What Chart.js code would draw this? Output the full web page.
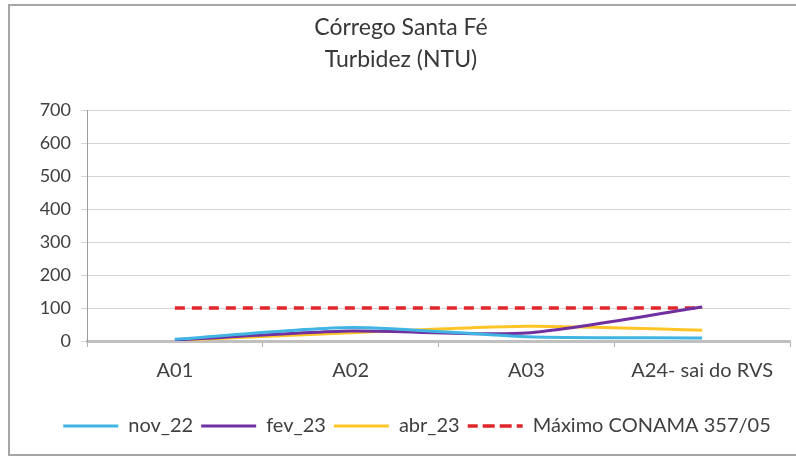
<!DOCTYPE html>
<html>
<head>
<meta charset="utf-8">
<script src="https://cdn.jsdelivr.net/npm/chart.js@4.4.1/dist/chart.umd.min.js"></script>
<style>
  html, body { margin: 0; padding: 0; background: #fff; }
  #wrap { position: relative; width: 796px; height: 459px; }
</style>
</head>
<body>
<div id="wrap"><canvas id="c" width="796" height="459"></canvas></div>
<script>
// Sampling points along the stream
const categories = ['A01', 'A02', 'A03', 'A24- sai do RVS'];
// Turbidity per campaign (NTU)
const nov22 = [5, 41, 13, 9];
const fev23 = [3, 30, 24, 103];
const abr23 = [2, 25, 45, 33];
// CONAMA 357/05 maximum allowed
const conamaMax = [100, 100, 100, 100];
const yTicks = [0, 100, 200, 300, 400, 500, 600, 700];

const FONT = 'Lato, "Open Sans", sans-serif';

// outer frame around the whole chart (right side runs off the canvas)
const framePlugin = {
  id: 'frame',
  afterUpdate(chart) {
    // nudge the legend row a little to the right
    const lg = chart.legend;
    if (lg) { lg.left += 16; lg.right += 16; }
  },
  afterDraw(chart) {
    const ctx = chart.ctx;
    ctx.save();
    ctx.strokeStyle = '#a6a6a6';
    ctx.lineWidth = 2;
    ctx.strokeRect(9, 5, 800, 450);
    ctx.restore();
  }
};

new Chart(document.getElementById('c'), {
  type: 'line',
  data: {
    labels: categories,
    datasets: [
      { label: 'nov_22', data: nov22, borderColor: '#40b5e4', backgroundColor: '#40b5e4', borderWidth: 3, tension: 0.25, pointRadius: 0 },
      { label: 'fev_23', data: fev23, borderColor: '#7030a0', backgroundColor: '#7030a0', borderWidth: 3, tension: 0.25, pointRadius: 0 },
      { label: 'abr_23', data: abr23, borderColor: '#ffc527', backgroundColor: '#ffc527', borderWidth: 3, tension: 0.25, pointRadius: 0 },
      { label: 'Máximo CONAMA 357/05', data: conamaMax, borderColor: '#e0262a', backgroundColor: '#e0262a', borderWidth: 3.5, borderDash: [10, 7], tension: 0, pointRadius: 0 }
    ]
  },
  options: {
    responsive: false,
    animation: false,
    layout: { padding: { top: 11, left: 12, right: 6, bottom: 13 } },
    plugins: {
      title: {
        display: true,
        text: ['Córrego Santa Fé', 'Turbidez (NTU)'],
        color: '#383838',
        font: { family: FONT, size: 23, weight: 'normal', lineHeight: 1.4 },
        padding: { top: 0, bottom: 35 }
      },
      legend: {
        position: 'bottom',
        labels: {
          color: '#404040',
          font: { family: FONT, size: 20 },
          boxWidth: 55,
          boxHeight: 0,
          padding: 8
        }
      },
      tooltip: { enabled: false }
    },
    scales: {
      x: {
        offset: true,
        afterFit(axis) { axis.height = 67; },
        grid: { offset: true, drawOnChartArea: false, color: '#b0b0b0', tickLength: 6 },
        border: { color: '#c0c0c0', width: 3 },
        ticks: { color: '#404040', font: { family: FONT, size: 20 }, padding: 12, maxRotation: 0 }
      },
      y: {
        min: 0,
        max: 700,
        afterBuildTicks(axis) { axis.ticks = yTicks.map(v => ({ value: v })); },
        afterFit(axis) { axis.width = 75; },
        grid: { color: '#d4d4d4', tickLength: 6 },
        border: { color: '#9a9a9a', width: 1 },
        ticks: { color: '#404040', font: { family: FONT, size: 18 }, padding: 10 }
      }
    }
  },
  plugins: [framePlugin]
});
</script>
</body>
</html>
